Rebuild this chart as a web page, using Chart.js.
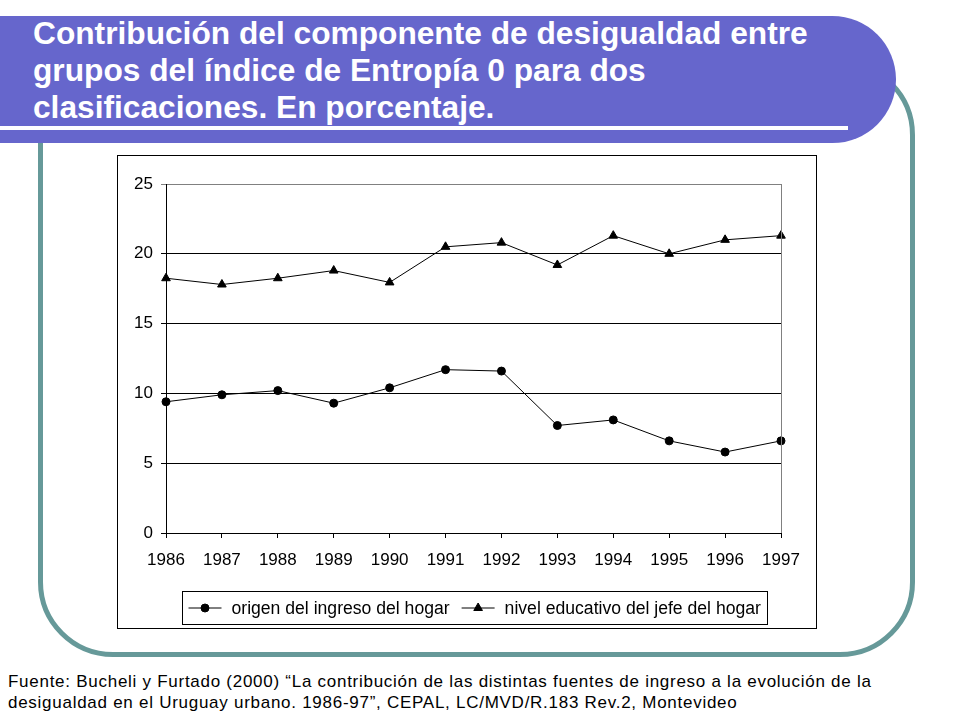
<!DOCTYPE html>
<html>
<head>
<meta charset="utf-8">
<script src="https://cdn.jsdelivr.net/npm/chart.js@4/dist/chart.umd.min.js"></script>
<style>
  html, body { margin:0; padding:0; background:#fff; }
  body { width:960px; height:720px; position:relative; overflow:hidden; font-family:"Liberation Sans", Arial, sans-serif; }
  #frame { position:absolute; left:38px; top:60px; width:877px; height:597px; border:5px solid #669999; border-radius:75px; box-sizing:border-box; }
  #banner { position:absolute; left:0; top:16px; width:896px; height:127px; background:#6666CC; border-radius:0 64px 64px 0; }
  #wline { position:absolute; left:0; top:126px; width:848px; height:4px; background:#fff; }
  #title { position:absolute; left:33px; top:15px; color:#fff; font-weight:bold; font-size:31.7px; line-height:37px; white-space:nowrap; }
  #box { position:absolute; left:117px; top:155px; width:700px; height:474px; border:1px solid #000; box-sizing:border-box; background:#fff; }
  #box canvas { position:absolute; left:0; top:0; }
  #foot { position:absolute; left:8px; top:671px; font-size:17px; line-height:21px; letter-spacing:0.73px; color:#000; white-space:nowrap; }
</style>
</head>
<body>
<div id="frame"></div>
<div id="banner"></div>
<div id="wline"></div>
<div id="title">Contribución del componente de desigualdad entre<br>grupos del índice de Entropía 0 para dos<br>clasificaciones. En porcentaje.</div>
<div id="box"><canvas id="c" width="698" height="472" style="width:698px;height:472px"></canvas></div>
<div id="foot">Fuente: Bucheli y Furtado (2000) “La contribución de las distintas fuentes de ingreso a la evolución de la<br>desigualdad en el Uruguay urbano. 1986-97”, CEPAL, LC/MVD/R.183 Rev.2, Montevideo</div>
<script>
const years = ['1986','1987','1988','1989','1990','1991','1992','1993','1994','1995','1996','1997'];
const origenIngreso = [9.4, 9.9, 10.2, 9.3, 10.4, 11.7, 11.6, 7.7, 8.1, 6.6, 5.8, 6.6];
const nivelEducativo = [18.25, 17.8, 18.25, 18.8, 17.95, 20.5, 20.8, 19.2, 21.3, 20.0, 21.0, 21.3];
const seriesNames = ['origen del ingreso del hogar', 'nivel educativo del jefe del hogar'];
const yMin = 0, yMax = 25, yStep = 5;

Chart.defaults.font.family = '"Liberation Sans", Arial, sans-serif';
Chart.defaults.color = '#000';

const legendPlugin = {
  id: 'boxLegend',
  afterDraw(chart) {
    const ctx = chart.ctx;
    ctx.save();
    ctx.font = '17.6px "Liberation Sans", Arial, sans-serif';
    const dsets = chart.data.datasets;
    const lineLen = 33, padL = 6, padR = 7, gapText = 10, gapItem = 12;
    let total = padL + padR;
    const widths = dsets.map(d => ctx.measureText(d.label).width);
    widths.forEach((w, i) => { total += lineLen + gapText + w + (i > 0 ? gapItem : 0); });
    const boxH = 33;
    const x0 = Math.round(chart.width / 2 - total / 2 + 8) + 0.5;
    const y0 = 435.5;
    ctx.strokeStyle = '#000';
    ctx.lineWidth = 1;
    ctx.strokeRect(x0, y0, Math.round(total), boxH);
    let x = x0 + padL;
    const cy = y0 + boxH / 2;
    dsets.forEach((d, i) => {
      if (i > 0) x += gapItem;
      ctx.beginPath();
      ctx.moveTo(x, cy); ctx.lineTo(x + lineLen, cy);
      ctx.strokeStyle = '#000'; ctx.lineWidth = 1; ctx.stroke();
      ctx.fillStyle = '#000';
      Chart.helpers.drawPoint(ctx, { pointStyle: d.pointStyle, radius: d.pointRadius, borderWidth: 1, rotation: 0 }, x + lineLen / 2, cy);
      x += lineLen + gapText;
      ctx.fillStyle = '#000';
      ctx.textBaseline = 'middle';
      ctx.textAlign = 'left';
      ctx.fillText(d.label, x, cy + 1);
      x += widths[i];
    });
    const a = chart.chartArea;
    ctx.beginPath();
    ctx.moveTo(Math.round(a.right) + 0.5, a.top);
    ctx.lineTo(Math.round(a.right) + 0.5, a.bottom);
    ctx.strokeStyle = '#808080';
    ctx.stroke();
    ctx.restore();
  }
};

new Chart(document.getElementById('c'), {
  type: 'line',
  data: {
    labels: years,
    datasets: [
      { label: seriesNames[0], data: origenIngreso, borderColor: '#000', backgroundColor: '#000', borderWidth: 1,
        pointStyle: 'circle', pointRadius: 4, pointBorderWidth: 1, pointBackgroundColor: '#000', pointBorderColor: '#000', tension: 0 },
      { label: seriesNames[1], data: nivelEducativo, borderColor: '#000', backgroundColor: '#000', borderWidth: 1,
        pointStyle: 'triangle', pointRadius: 5, pointBorderWidth: 1, pointBackgroundColor: '#000', pointBorderColor: '#000', tension: 0 }
    ]
  },
  options: {
    responsive: false,
    animation: false,
    devicePixelRatio: 1,
    layout: { padding: { top: 28, right: 35, left: 0, bottom: 0 } },
    plugins: { legend: { display: false }, tooltip: { enabled: false } },
    scales: {
      x: {
        offset: false,
        grid: { display: true, drawOnChartArea: false, drawTicks: true, tickLength: 5, color: '#000' },
        border: { display: true, color: '#000', width: 1 },
        ticks: { font: { size: 17 }, color: '#000', padding: 12, maxRotation: 0, autoSkip: false },
        afterFit(scale) { scale.height = 95; }
      },
      y: {
        min: yMin, max: yMax,
        grid: { color: (c) => (c.tick && c.tick.value === yMax ? '#808080' : '#000'), lineWidth: 1, drawTicks: true, tickLength: 5 },
        border: { display: true, color: '#000', width: 1 },
        ticks: { stepSize: yStep, font: { size: 17 }, color: '#000', padding: 8 },
        afterFit(scale) { scale.width = 48; }
      }
    }
  },
  plugins: [legendPlugin]
});
</script>
</body>
</html>
